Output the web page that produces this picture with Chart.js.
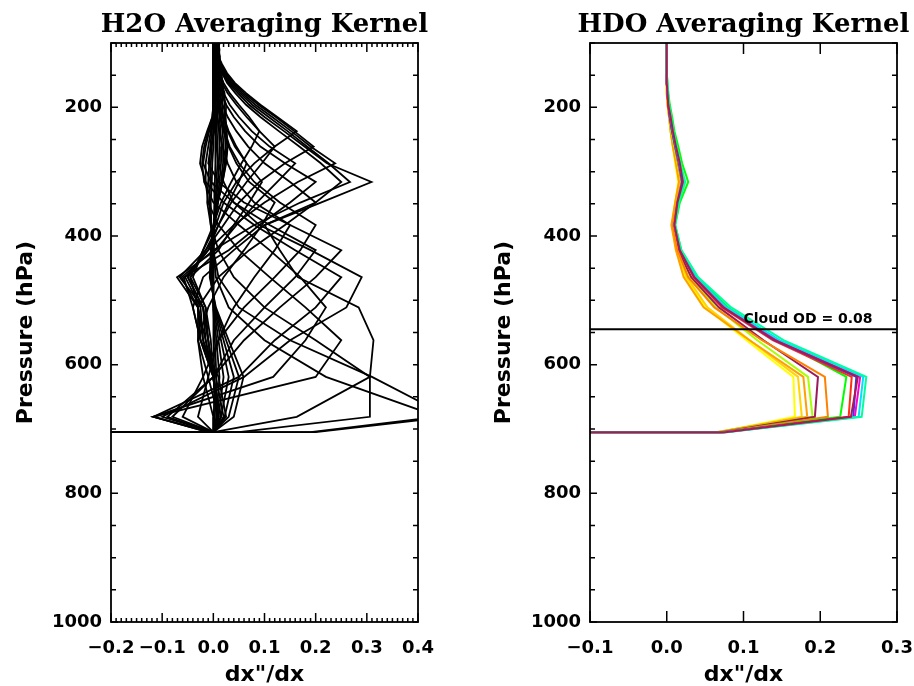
<!DOCTYPE html>
<html>
<head>
<meta charset="utf-8">
<script src="https://cdn.jsdelivr.net/npm/chart.js@4.4.1/dist/chart.umd.min.js"></script>
<style>
  html, body { margin: 0; padding: 0; background: #fff; }
  #wrap { position: relative; width: 914px; height: 686px; }
  canvas { position: absolute; top: 0; }
</style>
</head>
<body>
<div id="wrap">
  <canvas id="h2o" width="457" height="686" style="left:0"></canvas>
  <canvas id="hdo" width="457" height="686" style="left:457px"></canvas>
</div>
<script>
// pressure levels of the retrieval grid (hPa), top to surface
const pressure = [100, 110, 121, 133, 147, 162, 178, 196, 215, 237, 261, 287, 316, 348, 383, 422, 464, 511, 562, 619, 681, 705];
const surfaceP = 705;
const fillX = -999;   // below-surface fill value, drawn off the left edge

const yTicks = [200, 400, 600, 800, 1000];
const xTicksH2O = [-0.2, -0.1, 0.0, 0.1, 0.2, 0.3, 0.4];
const xTicksHDO = [-0.1, 0.0, 0.1, 0.2, 0.3];

// H2O averaging kernel rows, one value per pressure level
const h2oRows = [
  // upper-level rows, close to zero
  [0.012,0.010,0.008,0.006,0.005,0.004,0.003,0.003,0.003,0.004,0.004,0.004,0.003,0.002,0.001,0.000,0.000,0.000,0.001,0.002,0.001,0.000],
  [0.010,0.012,0.011,0.009,0.007,0.006,0.005,0.005,0.006,0.007,0.008,0.008,0.006,0.004,0.002,0.000,-0.001,0.000,0.003,0.006,0.003,0.000],
  [0.007,0.010,0.013,0.012,0.010,0.009,0.008,0.008,0.009,0.011,0.012,0.011,0.009,0.005,0.002,0.000,-0.002,0.000,0.006,0.012,0.006,0.000],
  [0.005,0.008,0.011,0.015,0.014,0.012,0.011,0.011,0.012,0.014,0.016,0.015,0.012,0.007,0.002,-0.001,-0.003,0.001,0.010,0.020,0.010,0.000],
  [0.004,0.006,0.009,0.013,0.017,0.016,0.014,0.014,0.015,0.018,0.020,0.019,0.015,0.008,0.002,-0.002,-0.004,0.002,0.015,0.030,0.015,0.000],
  [0.003,0.005,0.007,0.010,0.014,0.019,0.018,0.017,0.019,0.022,0.024,0.022,0.017,0.009,0.002,-0.003,-0.005,0.003,0.020,0.040,0.022,0.000],
  [0.002,0.004,0.006,0.008,0.011,0.016,0.022,0.021,0.022,0.025,0.027,0.024,0.018,0.009,0.001,-0.004,-0.006,0.004,0.025,0.050,0.030,0.000],
  [0.002,0.003,0.005,0.007,0.009,0.013,0.018,0.025,0.024,0.026,0.028,0.025,0.018,0.008,0.000,-0.005,-0.007,0.005,0.030,0.059,0.040,0.000],
  // mid rows with long upper tails
  [0.000,0.005,0.010,0.017,0.027,0.042,0.064,0.092,0.125,0.163,0.120,0.080,0.045,0.020,0.005,-0.020,-0.045,-0.015,-0.010,0.000,0.010,0.000],
  [0.000,0.004,0.009,0.015,0.025,0.039,0.060,0.088,0.122,0.158,0.196,0.140,0.090,0.050,0.020,-0.015,-0.050,-0.020,-0.015,0.000,0.015,0.000],
  [0.000,0.004,0.008,0.014,0.023,0.036,0.056,0.082,0.115,0.152,0.190,0.238,0.165,0.100,0.040,-0.010,-0.055,-0.025,-0.020,0.005,0.020,0.000],
  [0.000,0.003,0.007,0.013,0.021,0.033,0.052,0.076,0.108,0.145,0.183,0.225,0.267,0.170,0.080,0.000,-0.062,-0.030,-0.025,0.010,0.025,0.000],
  [0.000,0.003,0.006,0.012,0.019,0.030,0.048,0.070,0.100,0.138,0.178,0.222,0.309,0.210,0.100,0.130,0.165,0.284,0.313,0.306,0.306,0.050],
  [0.000,0.003,0.006,0.011,0.017,0.027,0.043,0.064,0.092,0.128,0.168,0.210,0.250,0.200,0.100,0.040,-0.020,-0.040,-0.025,0.000,0.015,0.000],
  // mid rows, weaker
  [0.000,0.002,0.004,0.007,0.012,0.020,0.032,0.050,0.070,0.090,0.075,0.055,0.035,0.015,0.000,-0.020,-0.040,-0.015,-0.005,0.000,0.008,0.000],
  [0.000,0.001,0.003,0.006,0.010,0.017,0.028,0.045,0.065,0.090,0.120,0.095,0.065,0.035,0.010,-0.015,-0.066,-0.020,-0.010,0.000,0.010,0.000],
  [0.000,0.001,0.002,0.004,0.007,0.012,0.020,0.032,0.050,0.075,0.110,0.160,0.125,0.085,0.045,0.005,-0.071,-0.030,-0.020,0.000,0.010,0.000],
  [0.000,0.001,0.002,0.003,0.005,0.009,0.015,0.025,0.040,0.062,0.092,0.140,0.200,0.150,0.090,0.030,-0.058,-0.040,-0.025,0.000,0.010,0.000],
  [0.000,0.000,0.001,0.002,0.004,0.007,0.011,0.018,0.028,0.045,0.068,0.100,0.150,0.200,0.140,0.070,0.010,-0.030,-0.030,-0.010,0.010,0.000],
  [0.000,0.000,0.001,0.002,0.003,0.005,0.008,0.013,0.020,0.030,0.045,0.065,0.050,0.030,0.010,-0.010,-0.050,-0.020,-0.010,0.000,0.008,0.000],
  [0.000,0.000,0.001,0.001,0.002,0.004,0.007,0.011,0.018,0.028,0.042,0.065,0.095,0.070,0.040,0.010,-0.045,-0.030,-0.015,0.000,0.008,0.000],
  [0.000,0.000,0.000,0.001,0.002,0.003,0.005,0.008,0.013,0.020,0.030,0.045,0.070,0.120,0.095,0.060,0.020,-0.010,-0.030,-0.020,0.000,0.000],
  [0.000,0.000,0.000,0.001,0.002,0.004,0.007,0.010,0.015,0.022,0.032,0.050,0.080,0.130,0.200,0.170,0.120,0.060,0.010,-0.010,-0.030,0.000],
  // lower rows
  [0.000,0.000,0.000,0.000,0.001,0.002,0.003,0.005,0.008,0.012,0.018,0.028,0.045,0.080,0.150,0.250,0.200,0.130,0.060,0.000,-0.080,0.000],
  [0.000,0.000,0.000,0.000,0.000,0.000,0.001,0.002,0.003,0.004,0.006,0.010,0.020,0.040,0.090,0.190,0.290,0.260,0.150,0.060,-0.100,0.000],
  [0.000,0.000,0.000,0.000,0.001,0.002,0.003,0.004,0.004,0.002,-0.005,-0.010,0.010,0.060,0.150,0.120,0.080,0.040,0.010,-0.020,-0.060,0.000],
  [0.000,0.000,0.000,0.000,0.000,0.001,0.002,0.002,0.000,-0.008,-0.015,-0.020,-0.005,0.040,0.110,0.200,0.160,0.100,0.040,0.000,-0.090,0.000],
  [0.000,0.000,0.000,0.000,0.000,0.000,0.001,0.001,-0.002,-0.012,-0.022,-0.026,-0.015,0.020,0.080,0.160,0.250,0.200,0.120,0.050,-0.117,-0.005],
  [0.000,0.000,0.000,0.000,0.000,0.000,0.000,0.000,-0.002,-0.010,-0.018,-0.022,-0.018,0.000,0.050,0.110,0.170,0.220,0.180,0.117,-0.117,-0.010],
  [0.000,0.000,0.000,0.000,0.000,0.000,0.000,0.000,-0.001,-0.005,-0.010,-0.015,-0.015,-0.010,0.010,0.050,0.110,0.180,0.250,0.200,-0.117,-0.010],
  [0.000,0.000,0.000,0.000,0.000,0.000,0.000,0.000,0.000,-0.003,-0.006,-0.008,-0.010,-0.012,-0.005,0.010,0.040,0.100,0.200,0.306,0.163,0.000],
  [0.000,0.000,0.000,0.000,0.000,0.000,0.000,0.000,0.000,0.000,-0.003,-0.005,-0.006,-0.008,-0.005,0.000,0.010,0.050,0.150,0.310,0.460,0.200],
  [0.000,0.000,0.000,0.000,0.000,0.000,0.000,0.000,0.000,0.000,0.000,-0.002,-0.003,-0.005,-0.004,0.000,0.005,0.030,0.100,0.220,0.440,0.190]
];

// HDO averaging kernel rows and their colours (last one drawn on top)
const hdoRows = [
  [0,0,0,0,0,0,0.000,0.001,0.003,0.005,0.008,0.011,0.015,0.011,0.007,0.012,0.024,0.050,0.104,0.165,0.167,0.068],
  [0,0,0,0,0,0,0.000,0.001,0.003,0.005,0.008,0.012,0.016,0.011,0.007,0.013,0.026,0.053,0.108,0.171,0.176,0.066],
  [0,0,0,0,0,0,0.000,0.001,0.003,0.005,0.008,0.012,0.016,0.011,0.006,0.012,0.022,0.048,0.108,0.178,0.183,0.064],
  [0,0,0,0,0,0,0.001,0.002,0.004,0.006,0.010,0.014,0.019,0.013,0.009,0.015,0.031,0.064,0.118,0.184,0.190,0.068],
  [0,0,0,0,0,0,0.001,0.002,0.004,0.007,0.011,0.015,0.020,0.014,0.009,0.015,0.032,0.068,0.126,0.197,0.193,0.070],
  [0,0,0,0,0,0,0.001,0.002,0.004,0.007,0.011,0.015,0.019,0.013,0.008,0.014,0.028,0.062,0.124,0.206,0.210,0.070],
  [0,0,0,0,0,0.001,0.002,0.004,0.007,0.010,0.015,0.020,0.028,0.017,0.011,0.019,0.040,0.080,0.145,0.234,0.226,0.072],
  [0,0,0,0,0,0,0.001,0.002,0.004,0.007,0.012,0.016,0.021,0.015,0.010,0.017,0.035,0.072,0.138,0.241,0.237,0.072],
  [0,0,0,0,0,0,0.001,0.002,0.004,0.007,0.011,0.016,0.020,0.014,0.010,0.017,0.036,0.074,0.140,0.247,0.243,0.074],
  [0,0,0,0,0,0,0.001,0.002,0.005,0.008,0.012,0.017,0.022,0.015,0.010,0.018,0.037,0.076,0.143,0.252,0.245,0.074],
  [0,0,0,0,0,0,0.001,0.003,0.005,0.008,0.012,0.017,0.022,0.015,0.010,0.018,0.038,0.078,0.147,0.256,0.250,0.076],
  [0,0,0,0,0,0.001,0.002,0.003,0.006,0.009,0.013,0.018,0.024,0.016,0.011,0.019,0.041,0.084,0.152,0.260,0.254,0.078],
  [0,0,0,0,0,0,0.001,0.002,0.005,0.008,0.012,0.017,0.021,0.014,0.010,0.017,0.036,0.074,0.141,0.249,0.240,0.076]
];
const hdoColors = ['#ffff00', '#ffd400', '#ffa000', '#a8ff00', '#9b1b5a', '#ff8000', '#00ff00', '#ff3010', '#2040ff', '#ff00d0', '#00e0ff', '#00ffa0', '#b0164f'];

const cloudP = 545;
const cloudLabel = 'Cloud OD = 0.08';

Chart.defaults.color = '#000';
Chart.defaults.font.family = '"DejaVu Sans", sans-serif';

function profile(row) {
  const pts = pressure.map((p, i) => ({ x: row[i], y: p }));
  pts.push({ x: fillX, y: surfaceP });
  return pts;
}

function minorSteps(lo, hi, step) {
  const out = [];
  for (let v = lo; v <= hi + 1e-9; v += step) out.push(Math.round(v / step) * step);
  return out;
}

// inward ticks under the curves, frame box, panel title and note on top
const frame = {
  id: 'frame',
  beforeDatasetsDraw(chart, args, o) {
    const { ctx, chartArea: a, scales: { x, y } } = chart;
    ctx.save();
    ctx.strokeStyle = '#000';
    ctx.lineWidth = 1.5;
    ctx.beginPath();
    o.xMajor.forEach(v => {
      const px = x.getPixelForValue(v);
      ctx.moveTo(px, a.bottom); ctx.lineTo(px, a.bottom - o.xMajorLen);
      ctx.moveTo(px, a.top); ctx.lineTo(px, a.top + o.xMajorLen);
    });
    o.xMinor.forEach(v => {
      const px = x.getPixelForValue(v);
      ctx.moveTo(px, a.bottom); ctx.lineTo(px, a.bottom - 4);
      ctx.moveTo(px, a.top); ctx.lineTo(px, a.top + 4);
    });
    o.yMinor.forEach(v => {
      const py = y.getPixelForValue(v);
      const len = yTicks.includes(v) ? 7 : 5;
      ctx.moveTo(a.left, py); ctx.lineTo(a.left + len, py);
      ctx.moveTo(a.right, py); ctx.lineTo(a.right - 5, py);
    });
    ctx.stroke();
    ctx.restore();
  },
  afterDatasetsDraw(chart, args, o) {
    const { ctx, chartArea: a, scales: { x, y } } = chart;
    ctx.save();
    ctx.strokeStyle = '#000';
    ctx.lineWidth = 1.8;
    ctx.strokeRect(a.left, a.top, a.right - a.left, a.bottom - a.top);
    ctx.fillStyle = '#000';
    if (o.note) {
      ctx.font = 'bold 14px "DejaVu Sans"';
      ctx.textAlign = 'left';
      ctx.textBaseline = 'alphabetic';
      ctx.fillText(o.note.text, x.getPixelForValue(o.note.x), y.getPixelForValue(o.note.y) - 6);
    }
    ctx.font = 'bold 26px "DejaVu Serif"';
    ctx.textAlign = 'center';
    ctx.textBaseline = 'alphabetic';
    ctx.fillText(o.title, (a.left + a.right) / 2, 32);
    ctx.restore();
  }
};

function fmtX(v) {
  return (v < 0 ? '\u2212' : '') + Math.abs(v).toFixed(1);
}

function makeChart(id, datasets, opt) {
  return new Chart(document.getElementById(id), {
    type: 'scatter',
    data: { datasets },
    plugins: [frame],
    options: {
      responsive: false,
      animation: false,
      events: [],
      layout: { autoPadding: false, padding: { top: 43, right: opt.rightPad, left: 0, bottom: 0 } },
      elements: { point: { radius: 0 }, line: { tension: 0 } },
      plugins: {
        legend: { display: false },
        tooltip: { enabled: false },
        frame: { title: opt.title, xMajor: opt.xTicks, xMinor: opt.xMinor, xMajorLen: opt.xMajorLen, yMinor: minorSteps(100, 1000, 50), note: opt.note }
      },
      scales: {
        x: {
          type: 'linear', min: opt.xTicks[0], max: opt.xTicks[opt.xTicks.length - 1],
          afterBuildTicks: s => { s.ticks = opt.xTicks.map(v => ({ value: v })); },
          afterFit: s => { s.height = 64; s.paddingLeft = 0; s.paddingRight = 0; },
          grid: { display: false, drawTicks: false },
          border: { display: false },
          ticks: { callback: v => fmtX(v), padding: 16, maxRotation: 0, autoSkip: false, font: { size: 18, weight: 'bold' } },
          title: { display: true, text: 'dx"/dx', padding: { top: 0, bottom: 0 }, font: { size: 22, weight: 'bold', lineHeight: 1 } }
        },
        y: {
          type: 'linear', reverse: true, min: 100, max: 1000,
          afterBuildTicks: s => { s.ticks = yTicks.map(v => ({ value: v })); },
          afterFit: s => { s.width = opt.yWidth; s.paddingTop = 0; s.paddingBottom = 0; },
          grid: { display: false, drawTicks: false },
          border: { display: false },
          ticks: { callback: v => String(v), padding: 9, font: { size: 18, weight: 'bold' } },
          title: { display: true, text: 'Pressure (hPa)', padding: { top: opt.yTitlePad, bottom: 0 }, font: { size: 22, weight: 'bold', lineHeight: 1.2 } }
        }
      }
    }
  });
}

makeChart('h2o',
  h2oRows.map(r => ({ data: profile(r), showLine: true, borderColor: '#000', borderWidth: 1.8 })),
  { title: 'H2O Averaging Kernel', xTicks: xTicksH2O, xMinor: minorSteps(-0.2, 0.4, 0.01), xMajorLen: 9, rightPad: 39, yWidth: 111, yTitlePad: 13 });

const hdoSets = hdoRows.map((r, i) => ({ data: profile(r), showLine: true, borderColor: hdoColors[i], borderWidth: 2, order: hdoRows.length - i }));
hdoSets.push({ data: [{ x: xTicksHDO[0], y: cloudP }, { x: xTicksHDO[xTicksHDO.length - 1], y: cloudP }], showLine: true, borderColor: '#000', borderWidth: 2, order: 0 });

makeChart('hdo', hdoSets,
  { title: 'HDO Averaging Kernel', xTicks: xTicksHDO, xMinor: [], xMajorLen: 11, rightPad: 17, yWidth: 133, yTitlePad: 34, note: { x: 0.1, y: cloudP, text: cloudLabel } });
</script>
</body>
</html>
